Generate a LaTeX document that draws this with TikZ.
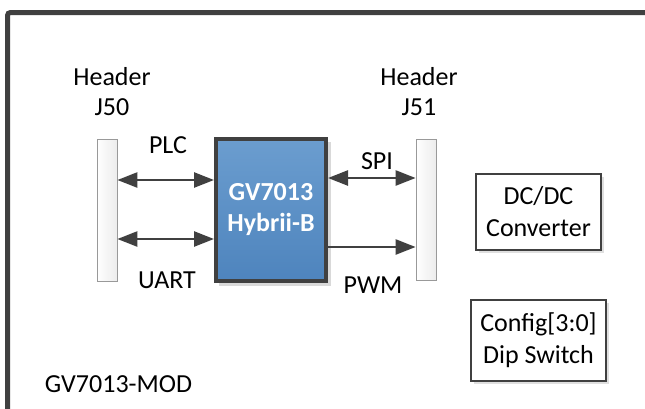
\documentclass[tikz,border=0pt]{standalone}
\usepackage{fontspec}
\setmainfont{Carlito}
\usetikzlibrary{arrows.meta}
\definecolor{frame}{HTML}{404040}
\definecolor{chiptop}{HTML}{6B9DCF}
\definecolor{chipbot}{HTML}{4E84BD}
\tikzset{
  lbl/.style={font=\fontsize{26}{31}\selectfont, text=black, inner sep=0pt},
  hdr/.style={draw=gray!80, line width=0.8pt, left color=white, right color=gray!15},
  box/.style={draw=frame, line width=1.2pt, fill=white, font=\fontsize{26}{32}\selectfont, align=center, inner sep=0pt},
  conn/.style={draw=frame, line width=2.5pt, {Triangle[length=20pt,width=15pt]}-{Triangle[length=20pt,width=15pt]}},
  conn1/.style={draw=frame, line width=2.5pt, -{Triangle[length=20pt,width=15pt]}},
}
\begin{document}
\begin{tikzpicture}[x=1pt,y=-1pt]
\useasboundingbox (0,0) rectangle (645,408);
\clip (0,0) rectangle (645,408);
\fill[white] (0,0) rectangle (645,408);
% outer frame
\draw[frame, line width=5pt, rounded corners=3pt] (7.5,430) -- (7.5,12.5) -- (660,12.5);
% headers
\node[hdr, minimum width=20pt, minimum height=142pt, inner sep=0pt] (j50) at (107,210) {};
\node[hdr, minimum width=20pt, minimum height=141pt, inner sep=0pt] (j51) at (426,209.5) {};
% chip
\fill[gray!30] (219,142) rectangle (331,286);
\node[draw=frame, line width=4pt, top color=chiptop, bottom color=chipbot, minimum width=110pt, minimum height=142pt, inner sep=0pt,
      text=white, font=\bfseries\fontsize{26}{31}\selectfont, align=center] (chip) at (271,210) {GV7013\\Hybrii-B};
% side boxes
\fill[gray!25] (479,177) rectangle (604,253);
\node[box, minimum width=125pt, minimum height=76pt] (dcdc) at (538.5,212) {DC/DC\\Converter};
\fill[gray!25] (474,303) rectangle (609,384);
\node[box, minimum width=135pt, minimum height=81pt] (cfg) at (538.5,340.5) {Config[3:0]\\Dip Switch};
% connectors
\coordinate (a1) at (j50.east |- 0,180);
\coordinate (b1) at (chip.west |- 0,180);
\draw[conn] (a1) -- (b1);
\coordinate (a2) at (j50.east |- 0,239);
\coordinate (b2) at (chip.west |- 0,239);
\draw[conn] (a2) -- (b2);
\coordinate (a3) at (chip.east |- 0,178);
\coordinate (b3) at (j51.west |- 0,178);
\draw[conn] (a3) -- (b3);
\coordinate (a4) at (chip.east |- 0,247);
\coordinate (b4) at (j51.west |- 0,247);
\draw[conn1] (a4) -- (b4);
% labels
\node[lbl] (hl1) at (112,77) {Header};
\node[lbl] (hl2) at (112,107) {J50};
\node[lbl] (hr1) at (419,77) {Header};
\node[lbl] (hr2) at (419,107) {J51};
\node[lbl] (plc) at (168,145) {PLC};
\node[lbl] (uart) at (167,280) {UART};
\node[lbl] (spi) at (377,161) {SPI};
\node[lbl] (pwm) at (373,285) {PWM};
\node[lbl] (mod) at (118.5,384) {GV7013-MOD};
\end{tikzpicture}
\end{document}
